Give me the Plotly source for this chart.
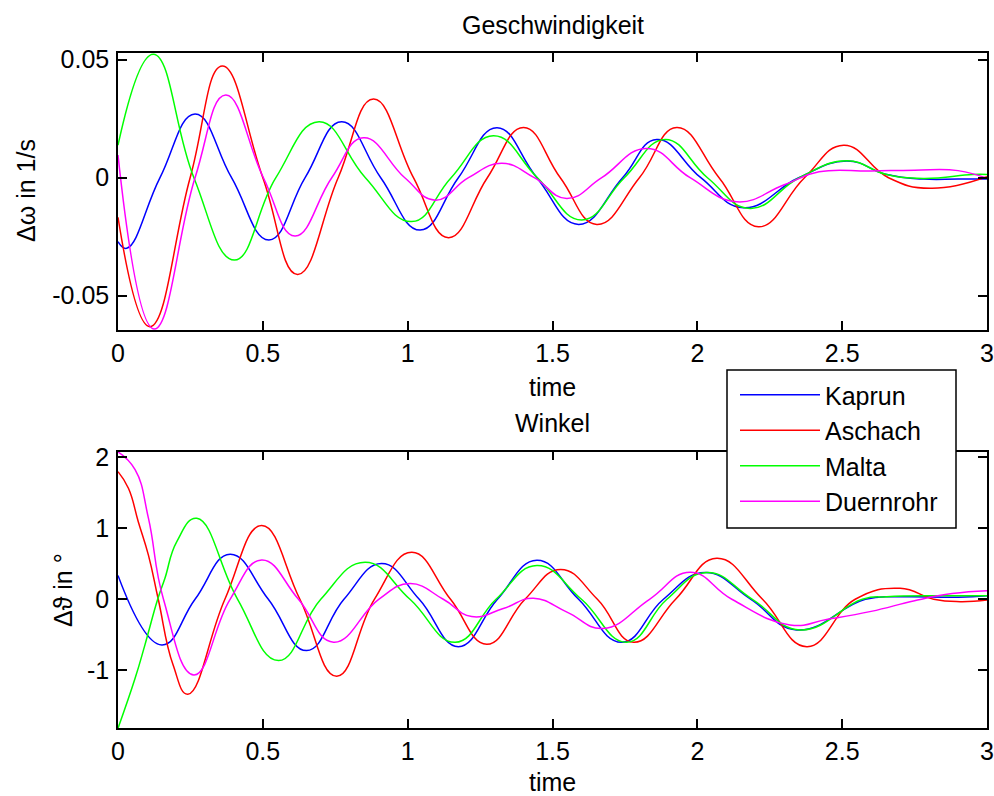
import plotly.graph_objects as go

# ---------------- data: speed deviation (top) ----------------
t_kaprun_w = [0, 0.03, 0.145, 0.266, 0.392, 0.521, 0.646, 0.772, 0.907, 1.043, 1.175, 1.308, 1.446, 1.590, 1.742, 1.860, 2.012, 2.159, 2.350, 2.516, 2.650, 2.780, 2.900, 3.0]
kaprun_w = [-0.0271, -0.0299, 0, 0.0270, 0, -0.0264, 0, 0.0237, 0, -0.0222, 0, 0.0212, 0, -0.0198, 0, 0.0162, 0, -0.0127, 0, 0.0071, 0.0015, -0.0006, -0.0006, -0.0006]

t_aschach_w = [0, 0.110, 0.249, 0.360, 0.500, 0.620, 0.760, 0.882, 1.020, 1.141, 1.275, 1.400, 1.527, 1.653, 1.800, 1.929, 2.075, 2.211, 2.370, 2.505, 2.660, 2.804, 3.0]
aschach_w = [-0.0168, -0.0631, 0, 0.0473, 0, -0.0410, 0, 0.0333, 0, -0.0254, 0, 0.0213, 0, -0.0198, 0, 0.0213, 0, -0.0208, 0, 0.0138, 0, -0.0045, 0.0004]

t_malta_w = [0, 0.122, 0.262, 0.402, 0.545, 0.694, 0.854, 1.014, 1.150, 1.296, 1.448, 1.601, 1.748, 1.889, 2.035, 2.182, 2.352, 2.516, 2.650, 2.780, 2.950, 3.0]
malta_w = [0.0138, 0.0523, 0, -0.0349, 0, 0.0237, 0, -0.0186, 0, 0.0178, 0, -0.0179, 0, 0.0162, 0, -0.0130, 0, 0.0072, 0.0015, -0.0003, 0.0014, 0.0014]

t_duernrohr_w = [0, 0.125, 0.266, 0.372, 0.502, 0.611, 0.738, 0.847, 0.990, 1.095, 1.210, 1.325, 1.437, 1.549, 1.670, 1.825, 1.975, 2.136, 2.300, 2.420, 2.600, 2.750, 2.900, 3.0]
duernrohr_w = [0.0096, -0.0641, 0, 0.0350, 0, -0.0247, 0, 0.0169, 0, -0.0095, 0, 0.0061, 0, -0.0088, 0, 0.0124, 0, -0.0102, -0.0030, 0.0025, 0.0028, 0.0032, 0.0030, -0.0003]

# ---------------- data: angle deviation (bottom) ----------------
t_kaprun_a = [0, 0.151, 0.266, 0.387, 0.519, 0.651, 0.780, 0.910, 1.040, 1.175, 1.310, 1.446, 1.590, 1.739, 1.883, 2.027, 2.185, 2.343, 2.580, 2.700, 2.900, 3.0]
kaprun_a = [0.335, -0.641, 0, 0.632, 0, -0.721, 0, 0.501, 0, -0.665, 0, 0.548, 0, -0.604, 0, 0.375, 0, -0.431, 0, 0.035, 0.030, 0.050]

t_aschach_a = [0, 0.036, 0.070, 0.105, 0.139, 0.190, 0.241, 0.369, 0.496, 0.628, 0.755, 0.885, 1.014, 1.148, 1.273, 1.405, 1.528, 1.655, 1.780, 1.925, 2.067, 2.225, 2.378, 2.545, 2.700, 2.816, 2.908, 3.0]
aschach_a = [1.793, 1.560, 1.090, 0.620, 0, -0.920, -1.334, 0, 1.035, 0, -1.081, 0, 0.660, 0, -0.632, 0, 0.420, 0, -0.604, 0, 0.576, 0, -0.665, 0, 0.155, 0, -0.033, -0.010]

t_malta_a = [0, 0.059, 0.093, 0.137, 0.162, 0.203, 0.272, 0.413, 0.554, 0.700, 0.853, 1.008, 1.164, 1.305, 1.446, 1.600, 1.756, 1.895, 2.033, 2.190, 2.355, 2.570, 2.654, 2.850, 3.0]
malta_a = [-1.812, -1.110, -0.640, 0, 0.295, 0.810, 1.138, 0, -0.861, 0, 0.520, 0, -0.604, 0, 0.473, 0, -0.604, 0, 0.375, 0, -0.431, 0, 0.037, 0.050, 0.050]

t_duernrohr_a = [0, 0.059, 0.105, 0.157, 0.262, 0.387, 0.496, 0.623, 0.744, 0.900, 1.008, 1.123, 1.221, 1.330, 1.434, 1.550, 1.675, 1.835, 1.975, 2.119, 2.320, 2.450, 2.600, 2.750, 2.880, 3.0]
duernrohr_a = [2.070, 1.820, 1.140, 0, -1.063, 0, 0.552, 0, -0.604, 0, 0.220, 0, -0.243, -0.130, 0.014, -0.180, -0.410, 0, 0.379, 0, -0.360, -0.280, -0.170, -0.020, 0.080, 0.120]

names = ["Kaprun", "Aschach", "Malta", "Duernrohr"]
colors = ["#0000ff", "#ff0000", "#00ff00", "#ff00ff"]
speed = [(t_kaprun_w, kaprun_w), (t_aschach_w, aschach_w), (t_malta_w, malta_w), (t_duernrohr_w, duernrohr_w)]
angle = [(t_kaprun_a, kaprun_a), (t_aschach_a, aschach_a), (t_malta_a, malta_a), (t_duernrohr_a, duernrohr_a)]

x_ticks = [0, 0.5, 1, 1.5, 2, 2.5, 3]
x_ticktext = ["0", "0.5", "1", "1.5", "2", "2.5", "3"]
y1_ticks = [-0.05, 0, 0.05]
y1_ticktext = ["-0.05", "0", "0.05"]
y2_ticks = [-1, 0, 1, 2]
y2_ticktext = ["-1", "0", "1", "2"]

FONT = "Liberation Sans, Arial, sans-serif"
FS = 25
W, H = 994, 796
ML, MR, MT, MB = 118, 7, 53, 68
PW, PH = W - ML - MR, H - MT - MB

def px2paper_x(px):
    return (px - ML) / PW

def py2paper(py):
    return (H - MB - py) / PH

fig = go.Figure()
for name, col, (t, v) in zip(names, colors, speed):
    fig.add_trace(go.Scatter(x=t, y=v, mode="lines", name=name, legendgroup=name,
                             line=dict(color=col, width=1.5, shape="spline", smoothing=1.3),
                             xaxis="x", yaxis="y", hoverinfo="skip"))
for name, col, (t, v) in zip(names, colors, angle):
    fig.add_trace(go.Scatter(x=t, y=v, mode="lines", name=name, legendgroup=name, showlegend=False,
                             line=dict(color=col, width=1.5, shape="spline", smoothing=1.3),
                             xaxis="x2", yaxis="y2", hoverinfo="skip"))

ax = dict(showline=True, mirror="ticks", linecolor="black", linewidth=1.5,
          ticks="inside", ticklen=9, tickwidth=1.5, tickcolor="black",
          showgrid=False, zeroline=False, automargin=False,
          tickfont=dict(family=FONT, size=FS, color="black"))

fig.update_layout(
    width=W, height=H,
    margin=dict(l=ML, r=MR, t=MT, b=MB, autoexpand=False),
    paper_bgcolor="white", plot_bgcolor="white",
    font=dict(family=FONT, size=FS, color="black"),
    xaxis=dict(domain=[0, 1], anchor="y", range=[0, 3], tickvals=x_ticks, ticktext=x_ticktext,
               ticklabelstandoff=0, **ax),
    yaxis=dict(domain=[py2paper(330), 1], anchor="x", range=[-0.06453, 0.05284], tickvals=y1_ticks,
               ticktext=y1_ticktext, ticklabelstandoff=2, **ax),
    xaxis2=dict(domain=[0, 1], anchor="y2", range=[0, 3], tickvals=x_ticks, ticktext=x_ticktext,
                ticklabelstandoff=0, **ax),
    yaxis2=dict(domain=[0, py2paper(451.7)], anchor="x2", range=[-1.808, 2.073], tickvals=y2_ticks,
                ticktext=y2_ticktext, ticklabelstandoff=2, **ax),
    legend=dict(x=px2paper_x(735), y=py2paper(372), xanchor="left", yanchor="top",
                bgcolor="rgba(0,0,0,0)", borderwidth=0,
                font=dict(family=FONT, size=FS, color="black"),
                itemwidth=80, tracegroupgap=5, traceorder="normal"),
    showlegend=True,
)

# legend frame (white box with black border, as in the reference)
fig.add_shape(type="rect", xref="paper", yref="paper", layer="above",
              x0=px2paper_x(727), x1=px2paper_x(956), y0=py2paper(528), y1=py2paper(370),
              line=dict(color="black", width=1.5), fillcolor="white")

annos = [
    dict(text="Geschwindigkeit", x=0.5, y=py2paper(25)),
    dict(text="time", x=0.5, y=py2paper(387)),
    dict(text="Winkel", x=0.5, y=py2paper(423)),
    dict(text="time", x=0.5, y=py2paper(782)),
]
for a in annos:
    fig.add_annotation(xref="paper", yref="paper", showarrow=False, xanchor="center", yanchor="middle",
                       font=dict(family=FONT, size=FS, color="black"), **a)

fig.add_annotation(xref="paper", yref="paper", x=px2paper_x(26), y=py2paper(191), text="Δω in 1/s",
                   textangle=-90, showarrow=False, xanchor="center", yanchor="middle",
                   font=dict(family=FONT, size=FS, color="black"))
fig.add_annotation(xref="paper", yref="paper", x=px2paper_x(63), y=py2paper(590), text="Δϑ in °",
                   textangle=-90, showarrow=False, xanchor="center", yanchor="middle",
                   font=dict(family=FONT, size=FS, color="black"))

fig.write_html("out.html")
